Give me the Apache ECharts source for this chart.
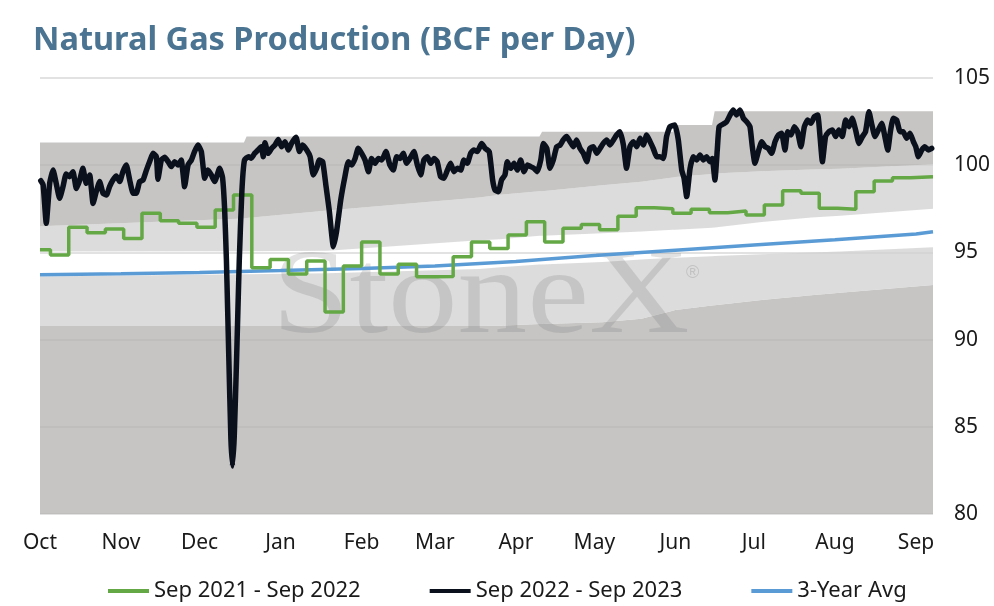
<!DOCTYPE html>
<html>
<head>
<meta charset="utf-8">
<title>Natural Gas Production</title>
<script src="https://cdn.jsdelivr.net/npm/echarts@6/dist/echarts.min.js"></script>
<style>
  html, body { margin: 0; padding: 0; background: #fff; }
  #chart { width: 994px; height: 606px; }
</style>
</head>
<body>
<div id="chart"></div>
<script>
// month labels, placed on the first day of each month (days counted from Oct 1)
var months = ['Oct', 'Nov', 'Dec', 'Jan', 'Feb', 'Mar', 'Apr', 'May', 'Jun', 'Jul', 'Aug', 'Sep'];
var monthDays = [0, 31, 61, 92, 123, 151, 182, 212, 243, 273, 304, 335];
var lastDay = 341.5;
var yTicks = [80, 85, 90, 95, 100, 105];

// Sep 2021 - Sep 2022 (weekly values, first week is short)
var greenFirstWeekEnd = 4;
var greenVals = [95.15, 94.85, 96.44, 96.13, 96.34, 95.80, 97.24, 96.82, 96.67, 96.44,
  97.43, 98.29, 94.12, 94.60, 93.76, 94.50, 91.58, 94.22, 95.60, 93.76,
  94.32, 93.60, 93.62, 94.75, 95.60, 95.23, 96.00, 96.76, 95.60, 96.38,
  96.60, 96.30, 97.07, 97.56, 97.50, 97.24, 97.47, 97.28, 97.37, 97.14,
  97.72, 98.54, 98.39, 97.53, 97.47, 98.48, 99.09, 99.28, 99.34];

// Sep 2022 - Sep 2023
var blackDays = [0.3, 1.2, 2.4, 3.7, 5.0, 6.2, 7.5, 8.8, 10.0, 11.3, 12.6, 13.9, 15.2, 16.4, 17.7, 19.0, 20.3, 21.5, 22.8, 24.1,
  25.4, 26.6, 27.9, 29.2, 30.5, 31.7, 33.0, 34.3, 35.6, 36.8, 38.1, 39.4, 40.7, 41.9, 43.2, 44.5, 45.1, 46.4, 47.7, 49.0,
  50.2, 51.5, 52.8, 54.0, 55.3, 56.6, 57.9, 59.1, 60.4, 61.7, 63.0, 64.2, 65.5, 66.8, 68.7, 69.8, 70.6, 71.3, 72.2, 73.0,
  73.6, 74.3, 75.2, 76.2, 77.2, 78.2, 79.8, 80.8, 82.1, 83.4, 84.6, 85.4, 86.0, 87.3, 88.6, 89.9, 91.1, 92.4, 93.7, 95.0,
  96.2, 97.9, 99.2, 100.4, 102.0, 103.3, 104.5, 105.8, 106.8, 108.1, 109.4, 110.6, 112.2, 113.4, 115.0, 116.6, 117.9, 119.2, 120.5, 121.7,
  123.0, 124.3, 125.6, 126.8, 128.1, 129.4, 130.7, 132.3, 133.8, 135.1, 136.4, 137.7, 138.9, 140.2, 141.5, 143.0, 144.3, 145.6, 146.8, 148.1,
  149.4, 150.7, 151.9, 153.2, 154.5, 155.8, 157.0, 158.3, 159.6, 160.9, 162.1, 163.4, 164.7, 165.9, 167.2, 168.9, 170.2, 171.8, 173.1, 174.0,
  175.3, 176.5, 177.8, 178.7, 180.0, 181.3, 182.5, 183.8, 185.1, 186.4, 187.6, 188.9, 190.2, 191.5, 192.5, 193.8, 195.0, 196.3, 197.6, 198.9,
  200.1, 201.4, 202.7, 204.0, 205.2, 206.5, 207.8, 209.1, 210.3, 211.6, 212.9, 214.2, 215.4, 216.7, 218.0, 219.3, 220.5, 221.8, 223.1, 224.3,
  225.6, 226.9, 228.2, 229.5, 230.7, 232.0, 233.3, 234.5, 235.8, 237.1, 238.4, 239.6, 240.9, 242.8, 244.1, 245.4, 246.3, 247.3, 248.6, 249.8,
  251.1, 252.4, 253.7, 254.9, 256.2, 257.1, 258.1, 259.0, 259.7, 261.3, 262.6, 263.9, 265.1, 266.4, 267.7, 269.0, 270.2, 271.5, 272.4, 273.4,
  274.7, 276.0, 277.3, 278.5, 279.8, 281.1, 282.4, 283.6, 284.9, 285.9, 287.2, 288.5, 289.7, 291.0, 292.3, 293.6, 294.8, 296.1, 297.4, 298.3,
  299.2, 300.4, 301.7, 303.0, 304.3, 305.5, 306.8, 308.1, 309.4, 310.6, 311.9, 313.2, 314.5, 315.7, 317.0, 318.0, 319.3, 320.6, 321.9, 323.1,
  324.2, 325.2, 326.3, 327.6, 328.9, 330.1, 331.4, 332.7, 334.0, 334.9, 335.9, 337.2, 338.4, 339.7, 341.0];
var blackVals = [99.11, 98.87, 96.67, 98.96, 99.72, 98.96, 98.10, 98.77, 99.50, 99.34, 99.63, 98.67, 99.15, 99.82, 98.96, 99.44, 97.81, 98.48, 99.06, 98.39,
  98.29, 98.77, 99.15, 99.38, 99.06, 99.63, 100.01, 99.15, 98.39, 98.39, 99.06, 99.15, 99.72, 100.20, 100.68, 100.49, 99.19, 100.30, 100.45, 100.20,
  99.92, 100.20, 100.01, 100.30, 98.77, 100.01, 100.30, 100.78, 101.16, 100.78, 99.25, 99.72, 99.44, 99.06, 99.82, 99.30, 97.50, 94.50, 89.00, 84.30,
  82.75, 84.50, 89.00, 94.50, 98.50, 100.30, 100.49, 100.40, 100.68, 100.87, 101.06, 100.49, 101.29, 100.68, 100.97, 101.16, 101.48, 101.06, 101.35, 100.87,
  101.25, 101.60, 100.78, 101.16, 100.87, 100.49, 99.44, 99.82, 100.30, 100.20, 98.77, 97.43, 95.33, 96.19, 98.00, 99.34, 100.20, 100.01, 100.39, 100.97,
  100.68, 100.30, 99.63, 100.39, 100.11, 100.39, 100.30, 100.78, 100.01, 99.72, 100.49, 100.39, 100.68, 100.11, 100.39, 100.78, 100.01, 99.44, 100.30, 100.49,
  100.11, 100.39, 100.20, 99.34, 99.25, 99.72, 100.11, 99.63, 99.82, 99.72, 100.30, 100.11, 100.68, 100.87, 100.78, 101.25, 100.97, 100.78, 99.15, 98.58,
  98.48, 99.15, 99.44, 100.20, 99.82, 100.11, 99.72, 100.30, 99.63, 100.01, 99.92, 99.82, 99.63, 100.30, 101.25, 100.97, 99.82, 100.30, 101.06, 101.16,
  101.45, 101.64, 101.35, 101.06, 101.45, 100.97, 100.68, 100.20, 100.97, 101.06, 100.68, 100.97, 101.25, 101.45, 101.16, 101.45, 101.73, 101.92, 101.16, 99.82,
  101.06, 101.35, 101.06, 101.54, 101.16, 101.73, 101.35, 100.97, 100.49, 100.49, 100.39, 101.64, 102.21, 102.31, 101.45, 99.72, 99.25, 98.20, 99.82, 100.49,
  100.30, 100.59, 100.30, 100.49, 100.20, 100.39, 99.15, 100.87, 102.21, 102.36, 102.50, 102.88, 103.17, 102.88, 103.17, 102.69, 102.50, 102.21, 101.06, 100.11,
  100.78, 101.35, 101.06, 100.97, 100.68, 101.35, 101.73, 101.83, 100.87, 101.92, 101.73, 102.21, 101.92, 101.06, 102.21, 102.59, 102.40, 102.78, 102.88, 101.64,
  100.20, 101.64, 101.92, 102.02, 101.64, 102.02, 101.64, 102.59, 102.21, 102.69, 102.02, 101.25, 101.64, 101.92, 103.07, 102.40, 101.64, 102.02, 102.40, 101.64,
  100.87, 101.92, 102.69, 102.59, 101.92, 101.92, 101.54, 101.83, 101.35, 101.06, 100.49, 100.87, 101.06, 100.87, 100.97];

// 3-year average
var blueDays = [0, 31, 61, 92, 123, 151, 182, 212, 243, 273, 304, 335, 341.5];
var blueVals = [93.72, 93.78, 93.85, 93.96, 94.08, 94.22, 94.48, 94.82, 95.12, 95.42, 95.72, 96.05, 96.18];

// background range bands: boundaries, bottom to top
var bandDays = [0, 78, 79, 110, 168, 176, 191, 192, 215, 230, 242, 243, 257, 258, 276, 295, 306, 341.5];
var band1 = [90.78, 90.78, 90.78, 90.78, 90.78, 90.80, 90.90, 90.90, 91.00, 91.20, 91.65, 91.70, 91.95, 91.97, 92.27, 92.55, 92.69, 93.13];
var band2 = [93.62, 93.75, 93.75, 93.80, 94.05, 94.15, 94.30, 94.30, 94.45, 94.60, 94.70, 94.70, 94.78, 94.80, 94.90, 95.00, 95.05, 95.30];
var band3 = [95.05, 95.07, 95.07, 95.10, 95.70, 95.75, 95.95, 95.96, 96.10, 96.20, 96.30, 96.30, 96.42, 96.43, 96.75, 97.00, 97.10, 97.50];
var band4 = [96.50, 96.95, 96.97, 97.40, 98.15, 98.30, 98.50, 98.50, 98.85, 99.05, 99.30, 99.32, 99.50, 99.52, 99.65, 99.75, 99.80, 100.05];
var band5 = [101.30, 101.30, 101.64, 101.64, 101.64, 101.64, 101.64, 101.92, 101.92, 101.92, 101.92, 102.30, 102.30, 103.10, 103.10, 103.10, 103.10, 103.10];

var names = ['Sep 2021 - Sep 2022', 'Sep 2022 - Sep 2023', '3-Year Avg'];
var FONT = '"Noto Sans", sans-serif';

var chart = echarts.init(document.getElementById('chart'));

// green: one point where each week starts, held flat until the next
var greenData = greenVals.map(function(v, i) {
  var d = i === 0 ? 0 : greenFirstWeekEnd + 7 * (i - 1);
  return [d, v];
});
greenData.push([lastDay, greenVals[greenVals.length - 1]]);

var blackData = blackDays.map(function(d, i) { return [d, blackVals[i]]; });
var blueData = blueDays.map(function(d, i) { return [d, blueVals[i]]; });

// each shaded band lies between two boundaries (the white one between band2 and band3 is left empty)
var bandFloor = bandDays.map(function() { return yTicks[0]; });
var bandPairs = [[bandFloor, band1], [band1, band2], [band3, band4], [band4, band5]];
var bandColors = ['rgba(180,179,178,0.76)', 'rgba(209,209,209,0.76)',
  'rgba(209,209,209,0.76)', 'rgba(180,179,178,0.76)'];

function renderBand(params, api) {
  var k = params.dataIndex;
  var lo = bandPairs[k][0], hi = bandPairs[k][1];
  var pts = [];
  for (var i = 0; i < bandDays.length; i++) pts.push(api.coord([bandDays[i], hi[i]]));
  for (var j = bandDays.length - 1; j >= 0; j--) pts.push(api.coord([bandDays[j], lo[j]]));
  return {
    type: 'polygon',
    shape: { points: pts },
    style: { fill: bandColors[k] }
  };
}

var option = {
  animation: false,
  backgroundColor: '#fff',
  title: {
    text: 'Natural Gas Production (BCF per Day)',
    left: 33,
    top: 24,
    padding: 0,
    textStyle: { color: '#4a7491', fontSize: 32.5, fontWeight: 'bold', fontFamily: FONT }
  },
  legend: {
    data: names,
    left: 103,
    top: 575,
    icon: 'rect',
    itemWidth: 41,
    itemHeight: 4,
    itemGap: 69,
    textStyle: { color: '#1a1a1a', fontSize: 22, fontFamily: FONT }
  },
  grid: { left: 40, right: 61, top: 78, bottom: 92 },
  xAxis: {
    type: 'value',
    min: 0,
    max: lastDay,
    axisLine: { show: false },
    axisTick: { show: false },
    splitLine: { show: false },
    axisLabel: {
      customValues: monthDays,
      margin: 19,
      color: '#1a1a1a',
      fontSize: 21,
      fontFamily: FONT,
      formatter: function(v) {
        var i = monthDays.indexOf(v);
        return i >= 0 ? months[i] : '';
      }
    }
  },
  yAxis: {
    type: 'value',
    position: 'right',
    min: yTicks[0],
    max: yTicks[yTicks.length - 1],
    interval: 5,
    axisLine: { show: false },
    axisTick: { show: false },
    splitLine: { lineStyle: { color: '#d9d9d9', width: 1.5 } },
    axisLabel: { margin: 21, color: '#1a1a1a', fontSize: 21, fontFamily: FONT }
  },
  graphic: [
    {
      type: 'text', x: 272, y: 300, scaleX: 1.15, z: 2, silent: true,
      style: { text: 'StoneX', font: '121px "Liberation Serif"', fill: 'rgba(120,120,120,0.22)',
        align: 'left', verticalAlign: 'middle' }
    },
    {
      type: 'text', x: 686, y: 264, z: 2, silent: true,
      style: { text: '®', font: '18px "Liberation Sans"', fill: 'rgba(120,120,120,0.26)' }
    }
  ],
  series: [
    {
      type: 'custom',
      silent: true,
      z: 1,
      renderItem: renderBand,
      data: bandPairs.map(function(p, k) { return [bandDays[0], yTicks[0]]; })
    },
    {
      name: names[2], type: 'line', data: blueData, symbol: 'none', z: 3,
      itemStyle: { color: '#5b9bd5' },
      lineStyle: { color: '#5b9bd5', width: 3.5 }
    },
    {
      name: names[0], type: 'line', data: greenData, step: 'end', symbol: 'none', z: 4,
      itemStyle: { color: '#63a845' },
      lineStyle: { color: '#63a845', width: 3.5 }
    },
    {
      name: names[1], type: 'line', data: blackData, symbol: 'none', z: 5, smooth: 0.15,
      itemStyle: { color: '#0a101c' },
      lineStyle: { color: '#0a101c', width: 5.5, join: 'round', cap: 'round' }
    }
  ]
};

chart.setOption(option);
</script>
</body>
</html>
